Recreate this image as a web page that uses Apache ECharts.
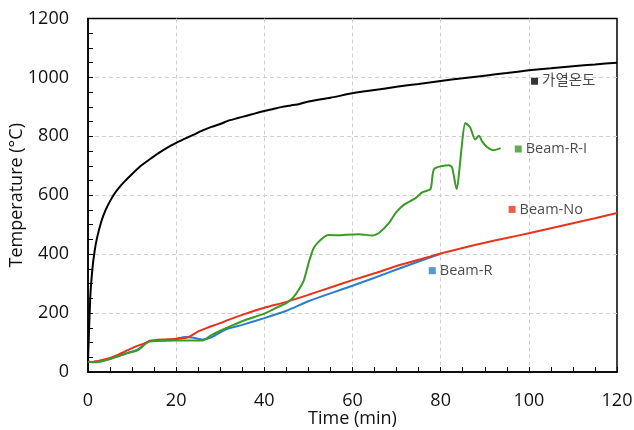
<!DOCTYPE html>
<html>
<head>
<meta charset="utf-8">
<script src="https://cdn.jsdelivr.net/npm/echarts@6/dist/echarts.min.js"></script>
<style>
  html, body { margin: 0; padding: 0; background: #fff; }
  #chart { width: 634px; height: 430px; }
</style>
</head>
<body>
<div id="chart"></div>
<script>
// Furnace heating temperature and beam temperatures, [time (min), temperature (°C)]
const heating = [
  [0, 36], [0.5, 250], [1, 350], [1.5, 410], [2, 452], [3, 510], [4, 550], [5, 580],
  [6, 605], [7, 625], [8, 642], [10, 672], [12, 700], [14, 722], [16, 743], [18, 762],
  [20, 778], [22, 792], [24, 806], [26, 820], [28, 832], [30, 842], [32, 854], [34, 862],
  [36, 870], [38, 878], [40, 886], [42, 893], [44, 900], [46, 905], [48, 910], [50, 918],
  [55, 931], [60, 946], [65, 957], [70, 968], [75, 978], [80, 988], [85, 997], [90, 1006],
  [95, 1015], [100, 1024], [105, 1031], [110, 1038], [115, 1044], [120, 1050]
];
const beamNo = [
  [0, 36], [1, 34], [3, 40], [5, 48], [7, 60], [9, 74], [11, 88], [13, 98], [14, 106],
  [15, 108], [17, 110], [20, 112], [22, 115], [23, 120], [25, 138], [27, 150], [30, 166],
  [32, 178], [35, 194], [40, 218], [45, 238], [50, 262], [55, 287], [60, 312], [65, 335],
  [70, 360], [75, 381], [80, 402], [85, 421], [90, 439], [95, 455], [100, 471], [105, 488],
  [110, 505], [115, 522], [120, 540]
];
const beamR = [
  [0, 36], [1, 34], [3, 38], [5, 45], [7, 55], [9, 65], [11, 74], [12, 84], [13, 98],
  [14, 104], [17, 107], [20, 113], [22, 119], [24, 116], [26, 110], [28, 118], [30, 135],
  [32, 148], [35, 160], [40, 183], [45, 208], [50, 240], [55, 267], [60, 293], [65, 320],
  [70, 348], [75, 375], [80, 401]
];
const beamRI = [
  [0, 36], [1, 33], [3, 36], [5, 44], [7, 54], [9, 64], [11, 72], [12, 82], [13, 95],
  [14, 104], [17, 106], [20, 107], [23, 107], [26, 107], [28, 125], [30, 140], [33, 160],
  [36, 178], [40, 198], [43, 220], [45, 234], [46.5, 252], [47.8, 279], [49, 313],
  [50, 368], [51.2, 421], [52.8, 449], [54.6, 465], [57, 464], [58.5, 466], [61.5, 468],
  [64.5, 463], [66, 472], [68.3, 506], [69.8, 540], [71.7, 568], [74.3, 590], [75.8, 610],
  [77.7, 621], [78.5, 689], [81.9, 702], [82.6, 694], [83.6, 621], [85.6, 845],
  [86.7, 830], [87.8, 789], [88.7, 802], [89.4, 783], [90.5, 764], [92, 753], [93.6, 760]
];

// Series names and the anchor of each inline tag [time, temperature]
const names = ['가열온도', 'Beam-R-I', 'Beam-No', 'Beam-R'];
const tagAnchors = [[101.3, 987], [97.6, 757], [96.2, 552], [78.1, 344]];
const colors = ['#000000', '#3a9a26', '#e8341c', '#2b7ec8'];

const xTicks = { min: 0, max: 120, step: 20 };
const yTicks = { min: 0, max: 1200, step: 200 };

const font = '"Open Sans", "Noto Sans CJK KR", sans-serif';
const chart = echarts.init(document.getElementById('chart'));

const lineSeries = [heating, beamRI, beamNo, beamR].map((d, i) => ({
  name: names[i],
  type: 'line',
  data: d,
  showSymbol: false,
  smooth: 0.2,
  lineStyle: { color: colors[i], width: 2 },
  z: i === 0 ? 5 : 4 - i + 2
}));

const tagSeries = names.map((n, i) => ({
  name: n + '-tag',
  type: 'scatter',
  data: [tagAnchors[i]],
  symbol: 'rect',
  symbolSize: 7,
  itemStyle: { color: colors[i] },
  label: {
    show: true,
    position: 'right',
    distance: 4,
    formatter: n,
    color: '#1a1a1a',
    fontSize: 14.5,
    fontFamily: font
  },
  silent: true,
  z: 6
}));

const axisCommon = {
  type: 'value',
  axisLine: { show: true, lineStyle: { color: '#000', width: 1.5 } },
  axisTick: { show: true, inside: true, length: 5, lineStyle: { color: '#000', width: 1 } },
  minorTick: { show: true, splitNumber: 4, length: 5, lineStyle: { color: '#000', width: 1 } },
  splitLine: {
    show: true, showMinLine: false, showMaxLine: false,
    lineStyle: { color: '#cfcfcf', type: [4, 3], width: 1 }
  },
  axisLabel: { color: '#111', fontSize: 18, fontFamily: font, formatter: v => String(v) },
  nameLocation: 'middle',
  nameMoveOverlap: false,
  nameTextStyle: { color: '#111', fontSize: 18, fontFamily: font }
};

chart.setOption({
  animation: false,
  backgroundColor: '#fff',
  grid: {
    left: 88, right: 17, top: 18.5, bottom: 58,
    outerBoundsMode: 'none', containLabel: false,
    show: true, borderColor: '#000', borderWidth: 1.5, backgroundColor: 'transparent'
  },
  xAxis: Object.assign({}, axisCommon, {
    min: xTicks.min, max: xTicks.max, interval: xTicks.step,
    name: 'Time (min)', nameGap: 38,
    axisLabel: Object.assign({}, axisCommon.axisLabel, { margin: 20 })
  }),
  yAxis: Object.assign({}, axisCommon, {
    min: yTicks.min, max: yTicks.max, interval: yTicks.step,
    name: 'Temperature (°C)', nameGap: 62,
    axisLabel: Object.assign({}, axisCommon.axisLabel, { margin: 19 })
  }),
  series: lineSeries.concat(tagSeries)
});
</script>
</body>
</html>
